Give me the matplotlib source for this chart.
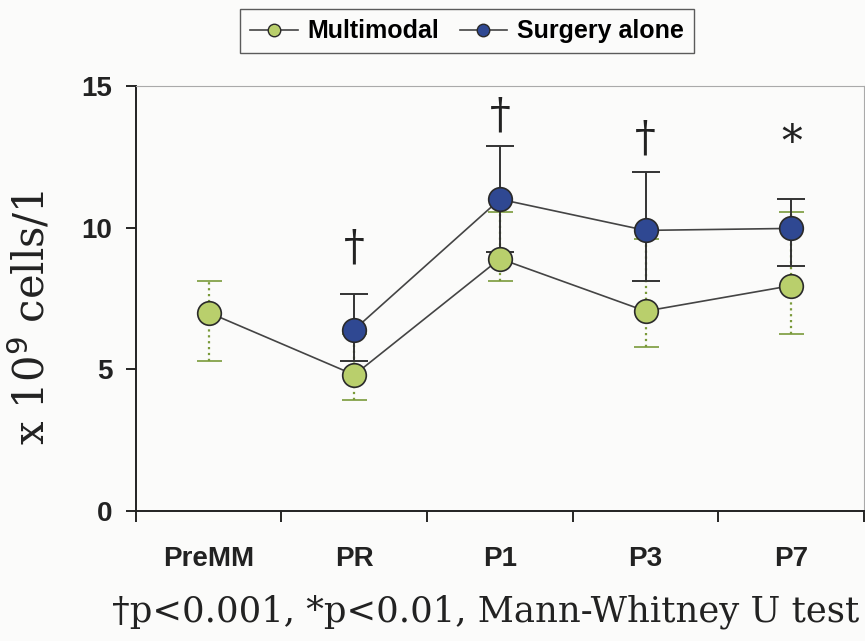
import matplotlib.pyplot as plt
import numpy as np

days = ['PreMM', 'PR', 'P1', 'P3', 'P7']
multi = [7.0, 4.8, 8.9, 7.05, 7.95]
multi_lo = [5.3, 3.9, 8.1, 5.8, 6.25]
multi_hi = [8.1, 6.26, 10.55, 9.58, 10.55]
surg = [np.nan, 6.4, 11.0, 9.9, 9.97]
surg_lo = [np.nan, 5.28, 9.13, 8.1, 8.63]
surg_hi = [np.nan, 7.64, 12.89, 11.97, 11.0]
marks = ['', '\u2020', '\u2020', '\u2020', '*']
mark_y = [np.nan, 9.3, 13.95, 13.15, 13.0]

green = '#b9cf6c'
blue = '#2f4892'
edge = '#2a2a2a'

fig = plt.figure(figsize=(8.65, 6.41), dpi=100, facecolor='#fbfbfa')
ax = fig.add_axes([0.157, 0.203, 0.842, 0.663])
ax.set_facecolor('#fbfbfa')

x = np.arange(len(days))
m = np.array(multi)
s = np.array(surg)

eb1 = ax.errorbar(x, m, yerr=[m - np.array(multi_lo), np.array(multi_hi) - m],
                  fmt='none', ecolor='#7a9a3a', elinewidth=1.6, capsize=9, capthick=1.2, zorder=2)
eb1[2][0].set_linestyle(':')
ax.errorbar(x, s, yerr=[s - np.array(surg_lo), np.array(surg_hi) - s],
            fmt='none', ecolor='#333333', elinewidth=1.4, capsize=10, capthick=1.4, zorder=3)

ax.plot(x, m, '-', color='#444444', lw=1.2, zorder=4)
ax.plot(x, s, '-', color='#444444', lw=1.2, zorder=4)
ax.plot(x, m, 'o', ms=17, mfc=green, mec=edge, mew=1.2, zorder=5)
ax.plot(x, s, 'o', ms=17, mfc=blue, mec=edge, mew=1.2, zorder=6)

for i, t in enumerate(marks):
    if t:
        ax.text(x[i], mark_y[i], t, ha='center', va='center', fontsize=30,
                family='DejaVu Serif', color='#222222')

# legend proxies
h1, = ax.plot([], [], '-o', color='#444444', lw=1.2, ms=9, mfc=green, mec=edge)
h2, = ax.plot([], [], '-o', color='#444444', lw=1.2, ms=9, mfc=blue, mec=edge)
leg = fig.legend([h1, h2], ['Multimodal', 'Surgery alone'], loc='center',
                 bbox_to_anchor=(0.54, 0.951), ncol=2, frameon=True, fancybox=False,
                 handlelength=1.9, handletextpad=0.4, columnspacing=0.8,
                 borderpad=0.4, prop={'family': 'Liberation Sans', 'weight': 'bold', 'size': 18})
leg.get_frame().set_edgecolor('#333333')
leg.get_frame().set_linewidth(1.0)
leg.get_frame().set_facecolor('#fbfbfa')

ax.set_xlim(-0.5, 4.5)
ax.set_ylim(0, 15)
ax.set_yticks([0, 5, 10, 15])
ax.set_xticks(np.arange(-0.5, 5, 1))
ax.set_xticklabels([])
ax.set_xticks(x, minor=True)
ax.set_xticklabels(days, minor=True)
ax.tick_params(axis='x', which='minor', length=0, pad=25)
ax.tick_params(axis='x', which='major', length=8, width=1.2, direction='out')
ax.tick_params(axis='y', length=7, width=1.2, direction='out', pad=10)
for lab in ax.get_xticklabels(minor=True) + ax.get_yticklabels():
    lab.set_family('Liberation Sans')
    lab.set_fontweight('bold')
    lab.set_fontsize(20)
    lab.set_color('#222222')

for sp in ['left', 'bottom']:
    ax.spines[sp].set_linewidth(1.4)
    ax.spines[sp].set_color('#222222')
for sp in ['top', 'right']:
    ax.spines[sp].set_linewidth(0.8)
    ax.spines[sp].set_color('#aaaaaa')

ax.set_ylabel('x 10$^9$ cells/1', family='DejaVu Serif', fontsize=30, color='#222222')
ax.yaxis.set_label_coords(-0.113, 0.455)
fig.text(0.561, 0.045, '\u2020p<0.001, *p<0.01, Mann-Whitney U test', ha='center', va='center',
         family='DejaVu Serif', fontsize=25.5, color='#222222')

fig.savefig('out.png', dpi=100, facecolor=fig.get_facecolor())
